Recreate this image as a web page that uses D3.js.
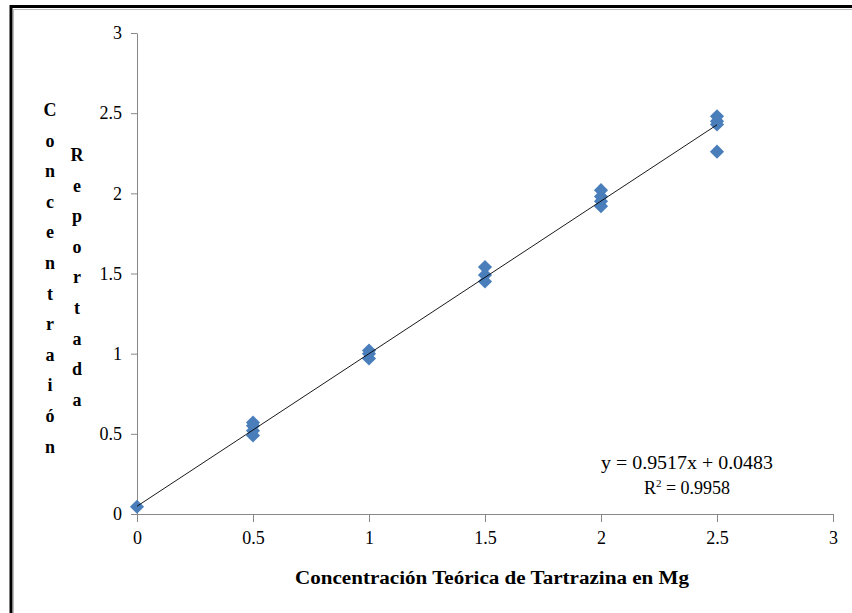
<!DOCTYPE html>
<html>
<head>
<meta charset="utf-8">
<script src="https://cdn.jsdelivr.net/npm/d3@7"></script>
<style>
body{margin:0;background:#fff;}
svg{display:block;}
</style>
</head>
<body>
<div id="container"></div>
<script>
// data
var xValues=[0,0.5,0.5,0.5,0.5,1,1,1,1.5,1.5,1.5,2,2,2,2,2.5,2.5,2.5,2.5];
var yValues=[0.045,0.57,0.55,0.52,0.49,1.02,1.0,0.97,1.54,1.49,1.45,2.02,1.98,1.95,1.92,2.48,2.45,2.43,2.26];
var xTicks=[0,0.5,1,1.5,2,2.5,3];
var yTicks=[0,0.5,1,1.5,2,2.5,3];
var slope=0.9517, intercept=0.0483;
var eqText='y = 0.9517x + 0.0483';
var xTitle='Concentración Teórica de Tartrazina en Mg';
var yTitle1='Concentraión';
var yTitle2='Reportada';

var width=852, height=613;
var plotLeft=137, plotRight=833, plotTop=33, plotBottom=514;
var font='"Liberation Serif", "DejaVu Serif", serif';

var svg=d3.select('#container')
.append('svg')
.attr('width',width)
.attr('height',height)
.style('background-color','white');

// frame
svg.append('rect')
.attr('x',11).attr('y',6.5)
.attr('width',1000).attr('height',800)
.attr('fill','none').attr('stroke','#000').attr('stroke-width',3);
svg.append('path')
.attr('d','M13.5,900V9.5H900')
.attr('fill','none').attr('stroke','#bbb').attr('stroke-width',1);

var xScale=d3.scaleLinear().domain([0,3]).range([plotLeft,plotRight]);
var yScale=d3.scaleLinear().domain([0,3]).range([plotBottom,plotTop]);

var x_axis=d3.axisBottom(xScale).tickValues(xTicks).tickSize(8).tickSizeOuter(0).tickPadding(7)
.tickFormat(d3.format('~g'));
var y_axis=d3.axisLeft(yScale).tickValues(yTicks).tickSize(6).tickSizeOuter(0).tickPadding(9)
.tickFormat(d3.format('~g'));

var gx=svg.append('g')
.attr('transform','translate(0,'+plotBottom+')')
.call(x_axis);
var gy=svg.append('g')
.attr('transform','translate('+plotLeft+',0)')
.call(y_axis);

[gx,gy].forEach(function(g){
    g.selectAll('path,line').attr('stroke','#888').attr('stroke-width',1);
    g.selectAll('text').attr('fill','#000').style('font-family',font).style('font-size','18px');
});
gx.selectAll('text').attr('dy','0.85em');

// points
var diamond=d3.symbol().type(d3.symbolSquare).size(100);
svg.selectAll('.pt')
.data(xValues)
.enter()
.append('path')
.attr('class','pt')
.attr('d',diamond)
.attr('transform',function(d,i){
    return 'translate('+xScale(d)+','+yScale(yValues[i])+') rotate(45)';
})
.attr('fill','#4a7ebb');

// trendline
svg.append('line')
.attr('x1',xScale(0)).attr('y1',yScale(intercept))
.attr('x2',xScale(2.5)).attr('y2',yScale(slope*2.5+intercept))
.attr('stroke','#000').attr('stroke-width',0.9);

// equation
svg.append('text')
.attr('x',687).attr('y',469)
.attr('text-anchor','middle')
.attr('textLength',172).attr('lengthAdjust','spacingAndGlyphs')
.style('font-family',font).style('font-size','18px')
.text(eqText);
var r2=svg.append('text')
.attr('x',687).attr('y',494)
.attr('text-anchor','middle')
.style('font-family',font).style('font-size','18px');
r2.append('tspan').text('R');
r2.append('tspan').attr('dy',-7).style('font-size','11px').text('2');
r2.append('tspan').attr('dy',7).text(' = 0.9958');

// x title
svg.append('text')
.attr('x',492).attr('y',584)
.attr('text-anchor','middle')
.attr('textLength',394).attr('lengthAdjust','spacingAndGlyphs')
.style('font-family',font).style('font-size','18px').style('font-weight','bold')
.text(xTitle);

// y title stacked letters
function stack(str,x,y0){
    str.split('').forEach(function(c,i){
        svg.append('text')
        .attr('x',x).attr('y',y0+i*30.6)
        .attr('text-anchor','middle')
        .style('font-family',font).style('font-size','18px').style('font-weight','bold')
        .text(c);
    });
}
stack(yTitle1,50,116);
stack(yTitle2,77,161);
</script>
</body>
</html>
